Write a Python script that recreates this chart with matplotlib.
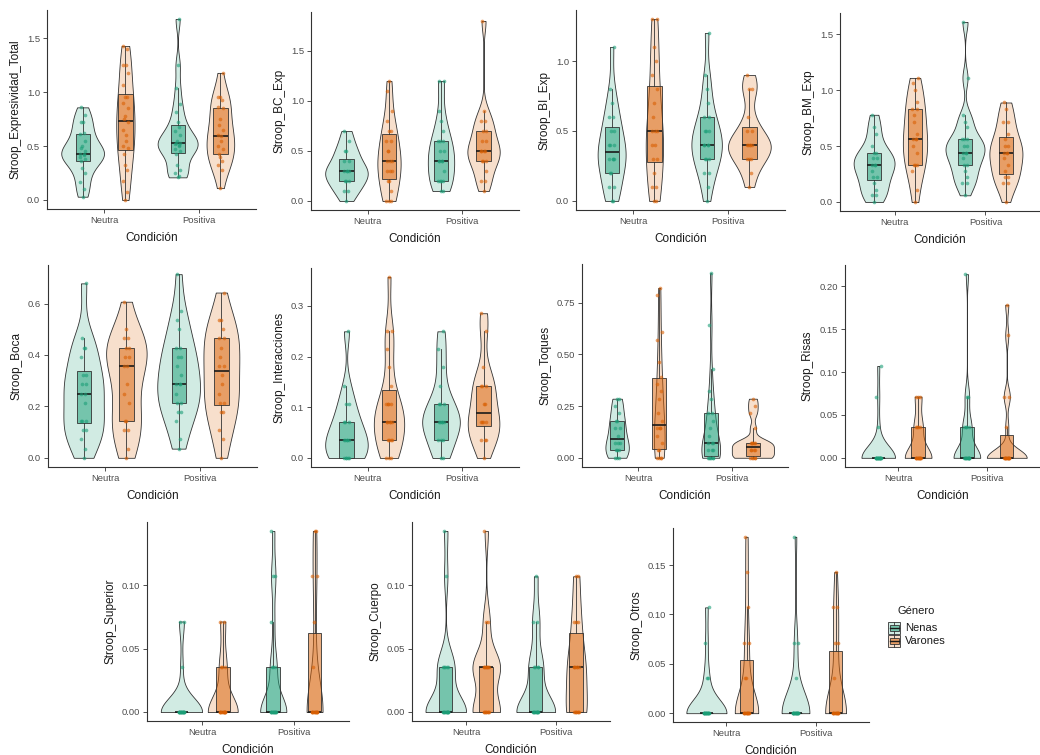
import numpy as np
import matplotlib
matplotlib.use("Agg")
import matplotlib.pyplot as plt
from matplotlib.patches import Rectangle
from matplotlib.colors import to_rgba

plt.rcParams['font.family'] = ['Liberation Sans', 'DejaVu Sans']

# ---------------- data ----------------
conditions = ["Neutra", "Positiva"]
genders = ["Nenas", "Varones"]
x_title = "Condición"
legend_title = "Género"
palette = ["#1B9E77", "#D95F02"]

# Stroop_Expresividad_Total
ext_neu_nenas = [0.03, 0.10, 0.17, 0.25, 0.30, 0.36, 0.38, 0.40, 0.42, 0.43, 0.43, 0.45, 0.48, 0.50, 0.55, 0.61, 0.62, 0.72, 0.72, 0.79, 0.86]
ext_neu_varones = [0.00, 0.07, 0.18, 0.28, 0.32, 0.43, 0.48, 0.50, 0.55, 0.60, 0.65, 0.72, 0.75, 0.78, 0.85, 0.90, 0.96, 0.96, 1.07, 1.18, 1.25, 1.25, 1.40, 1.43]
ext_pos_nenas = [0.21, 0.22, 0.25, 0.28, 0.32, 0.43, 0.45, 0.47, 0.50, 0.51, 0.52, 0.53, 0.53, 0.55, 0.60, 0.64, 0.68, 0.72, 0.82, 0.89, 1.04, 1.25, 1.68]
ext_pos_varones = [0.11, 0.28, 0.32, 0.36, 0.40, 0.43, 0.47, 0.50, 0.55, 0.59, 0.60, 0.65, 0.70, 0.75, 0.85, 0.86, 0.93, 0.96, 0.96, 1.18]
ext_ticks = [0.0, 0.5, 1.0, 1.5]
ext_labels = ["0.0", "0.5", "1.0", "1.5"]

# Stroop_BC_Exp
bc_neu_nenas = [0.0, 0.1, 0.1, 0.2, 0.2, 0.2, 0.3, 0.3, 0.3, 0.3, 0.4, 0.4, 0.5, 0.5, 0.6, 0.7]
bc_neu_varones = [0.0, 0.0, 0.0, 0.1, 0.2, 0.2, 0.3, 0.3, 0.3, 0.4, 0.4, 0.4, 0.5, 0.5, 0.6, 0.6, 0.7, 0.7, 0.8, 0.9, 1.1, 1.2]
bc_pos_nenas = [0.1, 0.1, 0.2, 0.2, 0.2, 0.2, 0.3, 0.4, 0.4, 0.4, 0.4, 0.5, 0.5, 0.6, 0.6, 0.6, 0.7, 0.8, 0.9, 1.2, 1.2]
bc_pos_varones = [0.1, 0.2, 0.2, 0.3, 0.4, 0.4, 0.4, 0.5, 0.5, 0.5, 0.5, 0.6, 0.6, 0.7, 0.7, 0.8, 0.8, 0.9, 1.8]
bc_ticks = [0.0, 0.5, 1.0, 1.5]
bc_labels = ["0.0", "0.5", "1.0", "1.5"]

# Stroop_BI_Exp
bi_neu_nenas = [0.0, 0.0, 0.1, 0.1, 0.2, 0.2, 0.3, 0.3, 0.3, 0.3, 0.4, 0.4, 0.4, 0.5, 0.5, 0.6, 0.6, 0.7, 0.8, 1.1]
bi_neu_varones = [0.0, 0.0, 0.1, 0.1, 0.2, 0.3, 0.3, 0.4, 0.4, 0.5, 0.5, 0.5, 0.6, 0.7, 0.8, 0.9, 1.0, 1.1, 1.3, 1.3]
bi_pos_nenas = [0.0, 0.1, 0.2, 0.2, 0.3, 0.3, 0.3, 0.4, 0.4, 0.4, 0.4, 0.5, 0.5, 0.5, 0.6, 0.6, 0.7, 0.8, 0.9, 1.2]
bi_pos_varones = [0.1, 0.2, 0.3, 0.3, 0.3, 0.4, 0.4, 0.4, 0.4, 0.4, 0.5, 0.5, 0.6, 0.8, 0.8, 0.9]
bi_ticks = [0.0, 0.5, 1.0]
bi_labels = ["0.0", "0.5", "1.0"]

# Stroop_BM_Exp
bm_neu_nenas = [0.00, 0.06, 0.06, 0.11, 0.17, 0.22, 0.22, 0.28, 0.33, 0.33, 0.33, 0.39, 0.39, 0.44, 0.44, 0.50, 0.61, 0.67, 0.78]
bm_neu_varones = [0.00, 0.11, 0.28, 0.33, 0.33, 0.33, 0.44, 0.50, 0.56, 0.56, 0.56, 0.61, 0.72, 0.78, 0.83, 0.83, 0.89, 1.00, 1.06, 1.11]
bm_pos_nenas = [0.06, 0.17, 0.17, 0.22, 0.28, 0.33, 0.33, 0.39, 0.44, 0.44, 0.44, 0.50, 0.50, 0.56, 0.56, 0.56, 0.67, 0.72, 0.78, 1.11, 1.61]
bm_pos_varones = [0.00, 0.17, 0.17, 0.22, 0.22, 0.28, 0.33, 0.39, 0.44, 0.44, 0.44, 0.50, 0.50, 0.56, 0.61, 0.72, 0.72, 0.83, 0.89]
bm_ticks = [0.0, 0.5, 1.0, 1.5]
bm_labels = ["0.0", "0.5", "1.0", "1.5"]

# The remaining variables are proportions read as counts out of 28
PER = 28.0

# Stroop_Boca
boca_neu_nenas = [0, 1, 2, 3, 3, 4, 4, 4, 6, 7, 7, 8, 8, 9, 9, 11, 12, 12, 13, 19]
boca_neu_varones = [0, 1, 3, 3, 4, 4, 6, 7, 8, 10, 10, 11, 11, 12, 12, 13, 13, 14, 17]
boca_pos_nenas = [1, 2, 4, 5, 5, 6, 6, 7, 8, 8, 8, 9, 10, 11, 11, 12, 12, 14, 15, 16, 20]
boca_pos_varones = [0, 2, 3, 5, 5, 6, 6, 7, 8, 9, 10, 10, 11, 12, 13, 13, 14, 15, 15, 18]
boca_ticks = [0.0, 0.2, 0.4, 0.6]
boca_labels = ["0.0", "0.2", "0.4", "0.6"]

# Stroop_Interacciones
int_neu_nenas = [0, 0, 0, 0, 0, 1, 1, 1, 1, 1, 2, 2, 2, 3, 3, 4, 7]
int_neu_varones = [0, 0, 0, 1, 1, 1, 1, 2, 2, 2, 2, 2, 3, 3, 3, 3, 4, 5, 6, 7, 7, 10]
int_pos_nenas = [0, 0, 1, 1, 1, 2, 2, 2, 2, 2, 3, 3, 3, 4, 5, 6, 7]
int_pos_varones = [0, 1, 1, 1, 2, 2, 2, 2, 3, 3, 4, 4, 4, 5, 7, 8]
int_ticks = [0.0, 0.1, 0.2, 0.3]
int_labels = ["0.0", "0.1", "0.2", "0.3"]

# Stroop_Toques
toq_neu_nenas = [0, 0, 0, 1, 1, 1, 2, 2, 2, 3, 4, 4, 5, 5, 6, 7, 8, 8]
toq_neu_varones = [0, 0, 0, 0, 1, 1, 2, 3, 4, 4, 4, 5, 6, 8, 9, 10, 11, 13, 16, 17, 22, 23]
toq_pos_nenas = [0, 0, 0, 0, 0, 0, 1, 1, 1, 2, 2, 2, 3, 4, 5, 6, 6, 8, 9, 12, 18, 25]
toq_pos_varones = [0, 0, 0, 0, 0, 1, 1, 1, 1, 2, 2, 2, 2, 2, 4, 6, 7, 8]
toq_ticks = [0.0, 0.25, 0.5, 0.75]
toq_labels = ["0.00", "0.25", "0.50", "0.75"]

# Stroop_Risas
ris_neu_nenas = [0] * 17 + [1, 2, 3]
ris_neu_varones = [0] * 12 + [1, 1, 1, 1, 2, 2, 2]
ris_pos_nenas = [0] * 12 + [1, 1, 1, 1, 2, 2, 6]
ris_pos_varones = [0] * 13 + [1, 2, 2, 4, 5]
ris_ticks = [0.0, 0.05, 0.10, 0.15, 0.20]
ris_labels = ["0.00", "0.05", "0.10", "0.15", "0.20"]

# Stroop_Superior
sup_neu_nenas = [0] * 17 + [1, 2, 2]
sup_neu_varones = [0] * 12 + [1, 1, 1, 2, 2]
sup_pos_nenas = [0] * 12 + [1, 1, 1, 2, 3, 3, 4]
sup_pos_varones = [0] * 12 + [1, 2, 3, 3, 4, 4]
sup_ticks = [0.0, 0.05, 0.10]
sup_labels = ["0.00", "0.05", "0.10"]

# Stroop_Cuerpo
cue_neu_nenas = [0] * 12 + [1, 1, 1, 1, 1, 3, 4]
cue_neu_varones = [0] * 8 + [1] * 8 + [2, 2, 4]
cue_pos_nenas = [0] * 11 + [1, 1, 1, 1, 2, 2, 3]
cue_pos_varones = [0] * 7 + [1] * 6 + [2, 2, 2, 3, 3]
cue_ticks = [0.0, 0.05, 0.10]
cue_labels = ["0.00", "0.05", "0.10"]

# Stroop_Otros
otr_neu_nenas = [0] * 16 + [1, 1, 2, 3]
otr_neu_varones = [0] * 12 + [1, 1, 2, 2, 3, 4, 5]
otr_pos_nenas = [0] * 17 + [1, 2, 2, 5]
otr_pos_varones = [0] * 12 + [1, 2, 2, 3, 3, 4]
otr_ticks = [0.0, 0.05, 0.10, 0.15]
otr_labels = ["0.00", "0.05", "0.10", "0.15"]


def frac(counts):
    return np.asarray(counts, dtype=float) / PER


panels = [
    ("Stroop_Expresividad_Total", [[ext_neu_nenas, ext_neu_varones], [ext_pos_nenas, ext_pos_varones]], ext_ticks, ext_labels),
    ("Stroop_BC_Exp", [[bc_neu_nenas, bc_neu_varones], [bc_pos_nenas, bc_pos_varones]], bc_ticks, bc_labels),
    ("Stroop_BI_Exp", [[bi_neu_nenas, bi_neu_varones], [bi_pos_nenas, bi_pos_varones]], bi_ticks, bi_labels),
    ("Stroop_BM_Exp", [[bm_neu_nenas, bm_neu_varones], [bm_pos_nenas, bm_pos_varones]], bm_ticks, bm_labels),
    ("Stroop_Boca", [[frac(boca_neu_nenas), frac(boca_neu_varones)], [frac(boca_pos_nenas), frac(boca_pos_varones)]], boca_ticks, boca_labels),
    ("Stroop_Interacciones", [[frac(int_neu_nenas), frac(int_neu_varones)], [frac(int_pos_nenas), frac(int_pos_varones)]], int_ticks, int_labels),
    ("Stroop_Toques", [[frac(toq_neu_nenas), frac(toq_neu_varones)], [frac(toq_pos_nenas), frac(toq_pos_varones)]], toq_ticks, toq_labels),
    ("Stroop_Risas", [[frac(ris_neu_nenas), frac(ris_neu_varones)], [frac(ris_pos_nenas), frac(ris_pos_varones)]], ris_ticks, ris_labels),
    ("Stroop_Superior", [[frac(sup_neu_nenas), frac(sup_neu_varones)], [frac(sup_pos_nenas), frac(sup_pos_varones)]], sup_ticks, sup_labels),
    ("Stroop_Cuerpo", [[frac(cue_neu_nenas), frac(cue_neu_varones)], [frac(cue_pos_nenas), frac(cue_pos_varones)]], cue_ticks, cue_labels),
    ("Stroop_Otros", [[frac(otr_neu_nenas), frac(otr_neu_varones)], [frac(otr_pos_nenas), frac(otr_pos_varones)]], otr_ticks, otr_labels),
]

# ---------------- layout (pixel boxes: left, right, top, bottom) ----------------
W, H = 1040, 755
boxes = [
    (47, 256, 10, 209), (311, 519, 12, 210), (576, 785, 10, 210), (840, 1040, 13, 211),
    (48, 257, 265, 467), (311, 519, 268, 467), (582, 788, 264, 467), (845, 1040, 265, 467),
    (147, 349, 522, 721), (412, 610, 522, 721), (673, 869, 528, 722),
]

fig = plt.figure(figsize=(W / 100, H / 100), dpi=100)
fig.patch.set_facecolor("white")


def add_ax(l, r, t, b):
    return fig.add_axes([l / W, 1 - b / H, (r - l) / W, (b - t) / H])


def nrd0(v):
    n = len(v)
    sd = np.std(v, ddof=1)
    q1, q3 = np.percentile(v, [25, 75])
    lo = min(sd, (q3 - q1) / 1.34)
    if lo <= 0:
        lo = sd if sd > 0 else (abs(v[0]) if v[0] != 0 else 1.0)
    return 0.9 * lo * n ** -0.2


def density(v):
    grid = np.linspace(v.min(), v.max(), 512)
    bw = nrd0(v)
    d = np.exp(-0.5 * ((grid[:, None] - v[None, :]) / bw) ** 2).sum(1) / (len(v) * bw * np.sqrt(2 * np.pi))
    return grid, d


LINE = "#333333"
for (name, groups, ticks, labels), (l, r, t, b) in zip(panels, boxes):
    ax = add_ax(l, r, t, b)
    arrs = [[np.asarray(groups[ci][gi], dtype=float) for gi in range(2)] for ci in range(2)]
    dens = [[density(arrs[ci][gi]) for gi in range(2)] for ci in range(2)]
    dmax = max(dens[ci][gi][1].max() for ci in range(2) for gi in range(2))
    allv = np.concatenate([arrs[ci][gi] for ci in range(2) for gi in range(2)])
    vmin, vmax = allv.min(), allv.max()
    rng = vmax - vmin
    for ci in range(2):
        for gi in range(2):
            v = arrs[ci][gi]
            xc = ci + 1 + (gi - 0.5) * 0.45
            grid, d = dens[ci][gi]
            w = 0.225 * d / dmax
            ax.fill_betweenx(grid, xc - w, xc + w, facecolor=to_rgba(palette[gi], 0.2),
                             edgecolor=LINE, linewidth=0.6, zorder=1)
            ax.boxplot([v], positions=[xc], widths=0.15, patch_artist=True, showfliers=False,
                       showcaps=False, whis=1.5, manage_ticks=False, zorder=2,
                       boxprops=dict(facecolor=to_rgba(palette[gi], 0.5), edgecolor=LINE, linewidth=0.6),
                       whiskerprops=dict(color=LINE, linewidth=0.6),
                       medianprops=dict(color="#1a1a1a", linewidth=1.2))
            offs = 0.028 * np.sin(np.arange(len(v)) * 2.39996)
            ax.scatter(xc + offs, v, s=7, color=palette[gi], alpha=0.6, linewidths=0, zorder=3)
    ax.set_xlim(0.4, 2.6)
    ax.set_ylim(vmin - 0.05 * rng, vmax + 0.05 * rng)
    ax.set_xticks([1, 2], conditions)
    ax.set_yticks(ticks, labels)
    for s in ["top", "right"]:
        ax.spines[s].set_visible(False)
    for s in ["left", "bottom"]:
        ax.spines[s].set_color(LINE)
        ax.spines[s].set_linewidth(0.8)
    ax.tick_params(length=3, width=0.6, color=LINE, labelcolor="#4D4D4D", labelsize=6.8, pad=2)
    ax.set_ylabel(name, fontsize=8.5, color="#1a1a1a", labelpad=4)
    ax.set_xlabel(x_title, fontsize=8.5, color="#1a1a1a", labelpad=5)

# ---------------- legend ----------------
lax = fig.add_axes([0, 0, 1, 1], zorder=5)
lax.set_xlim(0, W)
lax.set_ylim(H, 0)
lax.axis("off")
lax.text(898, 611, legend_title, fontsize=8, color="#1a1a1a", va="center", ha="left")
for gi, g in enumerate(genders):
    cy = 628 + gi * 13
    x0, x1 = 888, 900
    lax.add_patch(Rectangle((x0, cy - 6), 12, 12, facecolor=to_rgba(palette[gi], 0.2), edgecolor=LINE, lw=0.6))
    lax.add_patch(Rectangle((x0 + 1.5, cy - 3), 9, 6, facecolor=to_rgba(palette[gi], 0.5), edgecolor=LINE, lw=0.6))
    lax.plot([x0 + 1.5, x1 - 1.5], [cy, cy], color="#1a1a1a", lw=1.0)
    lax.plot([894, 894], [cy - 6, cy - 3], color=LINE, lw=0.6)
    lax.plot([894, 894], [cy + 3, cy + 6], color=LINE, lw=0.6)
    lax.text(905, cy, g, fontsize=8, color="#1a1a1a", va="center", ha="left")

fig.savefig("out.png", dpi=100)
